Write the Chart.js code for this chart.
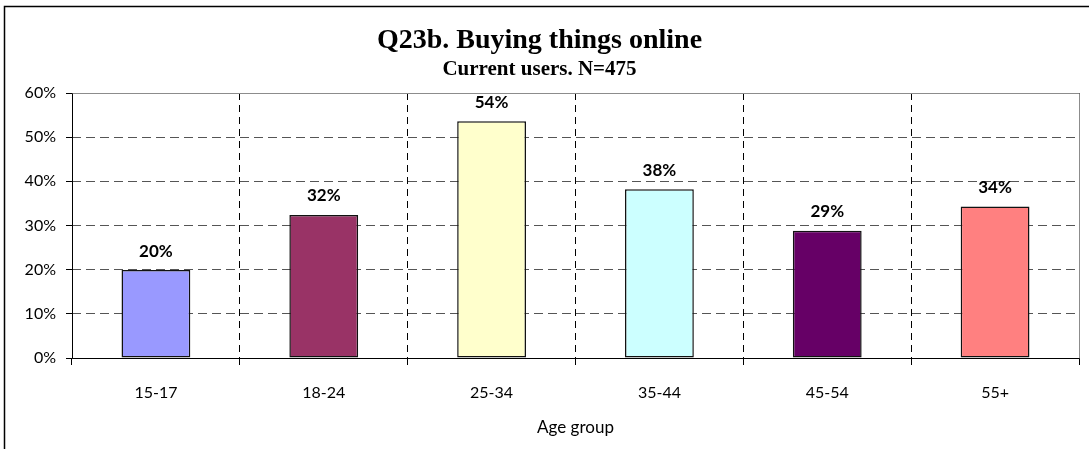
<!DOCTYPE html>
<html>
<head>
<meta charset="utf-8">
<script src="https://cdn.jsdelivr.net/npm/chart.js@4.4.0/dist/chart.umd.min.js"></script>
<style>
  html, body { margin: 0; padding: 0; background: #fff; }
  #wrap { width: 1089px; height: 449px; position: relative; }
</style>
</head>
<body>
<div id="wrap"><canvas id="myChart"></canvas></div>
<script>
// 차트 데이터
const ageGroups = ['15-17', '18-24', '25-34', '35-44', '45-54', '55+'];
const buyingOnline = [19.9, 32.4, 53.6, 38.2, 28.8, 34.3];
const barColors = ['#9999FF', '#993366', '#FFFFCC', '#CCFFFF', '#660066', '#FF8080'];
const yTicks = [0, 10, 20, 30, 40, 50, 60];

// 바깥 테두리와 플롯 영역 테두리
const framePlugin = {
    id: 'frame',
    beforeDraw(chart) {
        const ctx = chart.ctx;
        ctx.save();
        ctx.fillStyle = '#fff';
        ctx.fillRect(0, 0, chart.width, chart.height);
        ctx.strokeStyle = '#000';
        ctx.lineWidth = 1.5;
        ctx.beginPath();
        ctx.moveTo(4.5, chart.height + 2);
        ctx.lineTo(4.5, 6.5);
        ctx.lineTo(chart.width + 2, 6.5);
        ctx.stroke();
        ctx.restore();
    },
    afterDraw(chart) {
        const a = chart.chartArea;
        const ctx = chart.ctx;
        const l = Math.round(a.left) + 0.5;
        const r = Math.round(a.right) + 0.5;
        const t = Math.round(a.top) + 0.5;
        const b = Math.round(a.bottom) + 0.5;
        ctx.save();
        ctx.setLineDash([]);
        ctx.lineWidth = 1;
        // 위, 오른쪽 회색 테두리
        ctx.strokeStyle = '#8c8c8c';
        ctx.beginPath();
        ctx.moveTo(l, t);
        ctx.lineTo(r, t);
        ctx.lineTo(r, b);
        ctx.stroke();
        // 축 선 (실선)
        ctx.strokeStyle = '#000';
        ctx.beginPath();
        ctx.moveTo(l, t);
        ctx.lineTo(l, b);
        ctx.lineTo(r, b);
        ctx.stroke();
        ctx.restore();
    }
};

// 막대 위 값 라벨
const valueLabels = {
    id: 'valueLabels',
    afterDatasetsDraw(chart) {
        const ctx = chart.ctx;
        const meta = chart.getDatasetMeta(0);
        ctx.save();
        ctx.font = 'bold 17px Lato';
        ctx.fillStyle = '#000';
        ctx.textAlign = 'center';
        ctx.textBaseline = 'middle';
        meta.data.forEach((bar, i) => {
            ctx.fillText(Math.round(buyingOnline[i]) + '%', bar.x, bar.y - 19);
        });
        ctx.restore();
    }
};

const ctx = document.getElementById('myChart').getContext('2d');
new Chart(ctx, {
    type: 'bar',
    data: {
        labels: ageGroups,
        datasets: [{
            label: 'Buying things online',
            data: buyingOnline,
            backgroundColor: barColors,
            borderColor: '#111',
            borderWidth: 1.5,
            borderSkipped: false,
            categoryPercentage: 1,
            barPercentage: 0.41
        }]
    },
    options: {
        responsive: true,
        maintainAspectRatio: false,
        animation: false,
        events: [],
        layout: {
            padding: { left: 0, right: 10, top: 0, bottom: 0 }
        },
        plugins: {
            legend: { display: false },
            tooltip: { enabled: false },
            title: {
                display: true,
                text: 'Q23b. Buying things online',
                color: '#000',
                font: { family: 'Liberation Serif', size: 28, weight: 'bold', lineHeight: 1.1 },
                padding: { top: 25, bottom: 0 }
            },
            subtitle: {
                display: true,
                text: 'Current users. N=475',
                color: '#000',
                font: { family: 'Liberation Serif', size: 21, weight: 'bold', lineHeight: 1.2 },
                padding: { top: 1, bottom: 11 }
            }
        },
        scales: {
            x: {
                offset: true,
                afterFit: function(scale) { scale.height = 91; },
                grid: {
                    offset: true,
                    display: true,
                    drawOnChartArea: true,
                    drawTicks: true,
                    tickLength: 7,
                    // 왼쪽 끝 격자선은 축 선과 겹치므로 숨김
                    color: function(c) { return c.index === 0 ? 'rgba(0,0,0,0)' : '#000'; },
                    tickColor: '#000',
                    lineWidth: 1
                },
                border: { display: false, dash: [7, 5] },
                ticks: {
                    color: '#000',
                    padding: 18,
                    font: { family: 'Lato', size: 16 }
                },
                title: {
                    display: true,
                    text: 'Age group',
                    color: '#000',
                    font: { family: 'Lato', size: 17 },
                    padding: { top: 0, bottom: 11 }
                }
            },
            y: {
                min: 0,
                max: 60,
                afterFit: function(scale) { scale.width = 72; },
                afterBuildTicks: function(scale) {
                    scale.ticks = yTicks.map(v => ({ value: v }));
                },
                grid: {
                    drawTicks: true,
                    tickLength: 6,
                    color: '#555',
                    tickColor: '#000',
                    lineWidth: 1
                },
                border: { display: false, dash: [9, 5] },
                ticks: {
                    color: '#000',
                    padding: 10,
                    font: { family: 'Lato', size: 16 },
                    callback: function(value) { return value + '%'; }
                }
            }
        }
    },
    plugins: [framePlugin, valueLabels]
});
</script>
</body>
</html>
